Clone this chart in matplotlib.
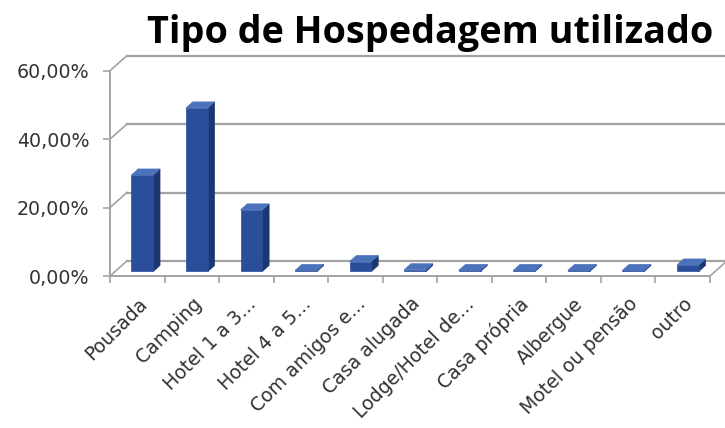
import matplotlib.pyplot as plt
from matplotlib.patches import Polygon
from matplotlib.ticker import FuncFormatter

categories = ['Pousada', 'Camping', 'Hotel 1 a 3...', 'Hotel 4 a 5...', 'Com amigos e...',
              'Casa alugada', 'Lodge/Hotel de...', 'Casa própria', 'Albergue',
              'Motel ou pensão', 'outro']
values = [28.2, 47.8, 18.0, 0.3, 2.9, 0.5, 0.3, 0.3, 0.3, 0.3, 1.9]
yticks = [0, 20, 40, 60]

# fake 3d: depth offset of the back wall in data units
DX, DY = 0.31, 4.4
Z0, DZ, W = 0.3, 0.4, 0.4
GRID = '#a3a3a3'
FRONT, SIDE, TOP = '#2b4e9b', '#1c3670', '#4a73bb'

fig = plt.figure(figsize=(7.25, 4.28), dpi=100)
ax = fig.add_axes([110 / 725, 152 / 428, 600 / 725, 205.3 / 428])
ax.set_xlim(0, len(categories))
ax.set_ylim(0, 60)

# back wall gridlines and side wall diagonals
for v in yticks:
    ax.plot([DX, len(categories) + DX], [v + DY, v + DY], color=GRID, lw=1.6,
            clip_on=False, zorder=1)
    ax.plot([0, DX], [v, v + DY], color=GRID, lw=1.2, clip_on=False, zorder=1)
ax.plot([len(categories), len(categories) + DX], [0, DY], color=GRID, lw=1.2,
        clip_on=False, zorder=1)

# bars
for i, v in enumerate(values):
    x0 = i + 0.5 - W / 2 + Z0 * DX
    x1 = x0 + W
    y0 = Z0 * DY
    ox, oy = DZ * DX, DZ * DY
    front = [(x0, y0), (x1, y0), (x1, y0 + v), (x0, y0 + v)]
    side = [(x1, y0), (x1 + ox, y0 + oy), (x1 + ox, y0 + v + oy), (x1, y0 + v)]
    top = [(x0, y0 + v), (x1, y0 + v), (x1 + ox, y0 + v + oy), (x0 + ox, y0 + v + oy)]
    for pts, c in [(side, SIDE), (front, FRONT), (top, TOP)]:
        ax.add_patch(Polygon(pts, closed=True, facecolor=c, edgecolor=c, lw=0.5,
                             clip_on=False, zorder=3))

for s in ['top', 'right']:
    ax.spines[s].set_visible(False)
for s in ['left', 'bottom']:
    ax.spines[s].set_color(GRID)
    ax.spines[s].set_linewidth(1.4)
    ax.spines[s].set_zorder(4)

ax.set_yticks(yticks)
ax.yaxis.set_major_formatter(FuncFormatter(lambda v, p: f'{v:.2f}%'.replace('.', ',')))
ax.tick_params(axis='y', direction='out', length=5, color=GRID, width=1.2,
               labelsize=13.7, labelcolor='#333333', pad=10)

ax.set_xticks([i + 0.5 for i in range(len(categories))])
ax.set_xticks(range(len(categories) + 1), minor=True)
ax.set_xticklabels(categories, rotation=45, ha='right', rotation_mode='anchor',
                   fontsize=13.6, color='#333333')
ax.tick_params(axis='x', which='major', length=0, pad=13)
ax.tick_params(axis='x', which='minor', direction='out', length=5, color=GRID, width=1.2)

ax.set_facecolor('none')
fig.text(430 / 725, 1 - 43 / 428, 'Tipo de Hospedagem utilizado', ha='center', va='baseline',
         fontsize=27.2, fontweight='bold', family='Open Sans', color='black')

fig.savefig('out.png')
